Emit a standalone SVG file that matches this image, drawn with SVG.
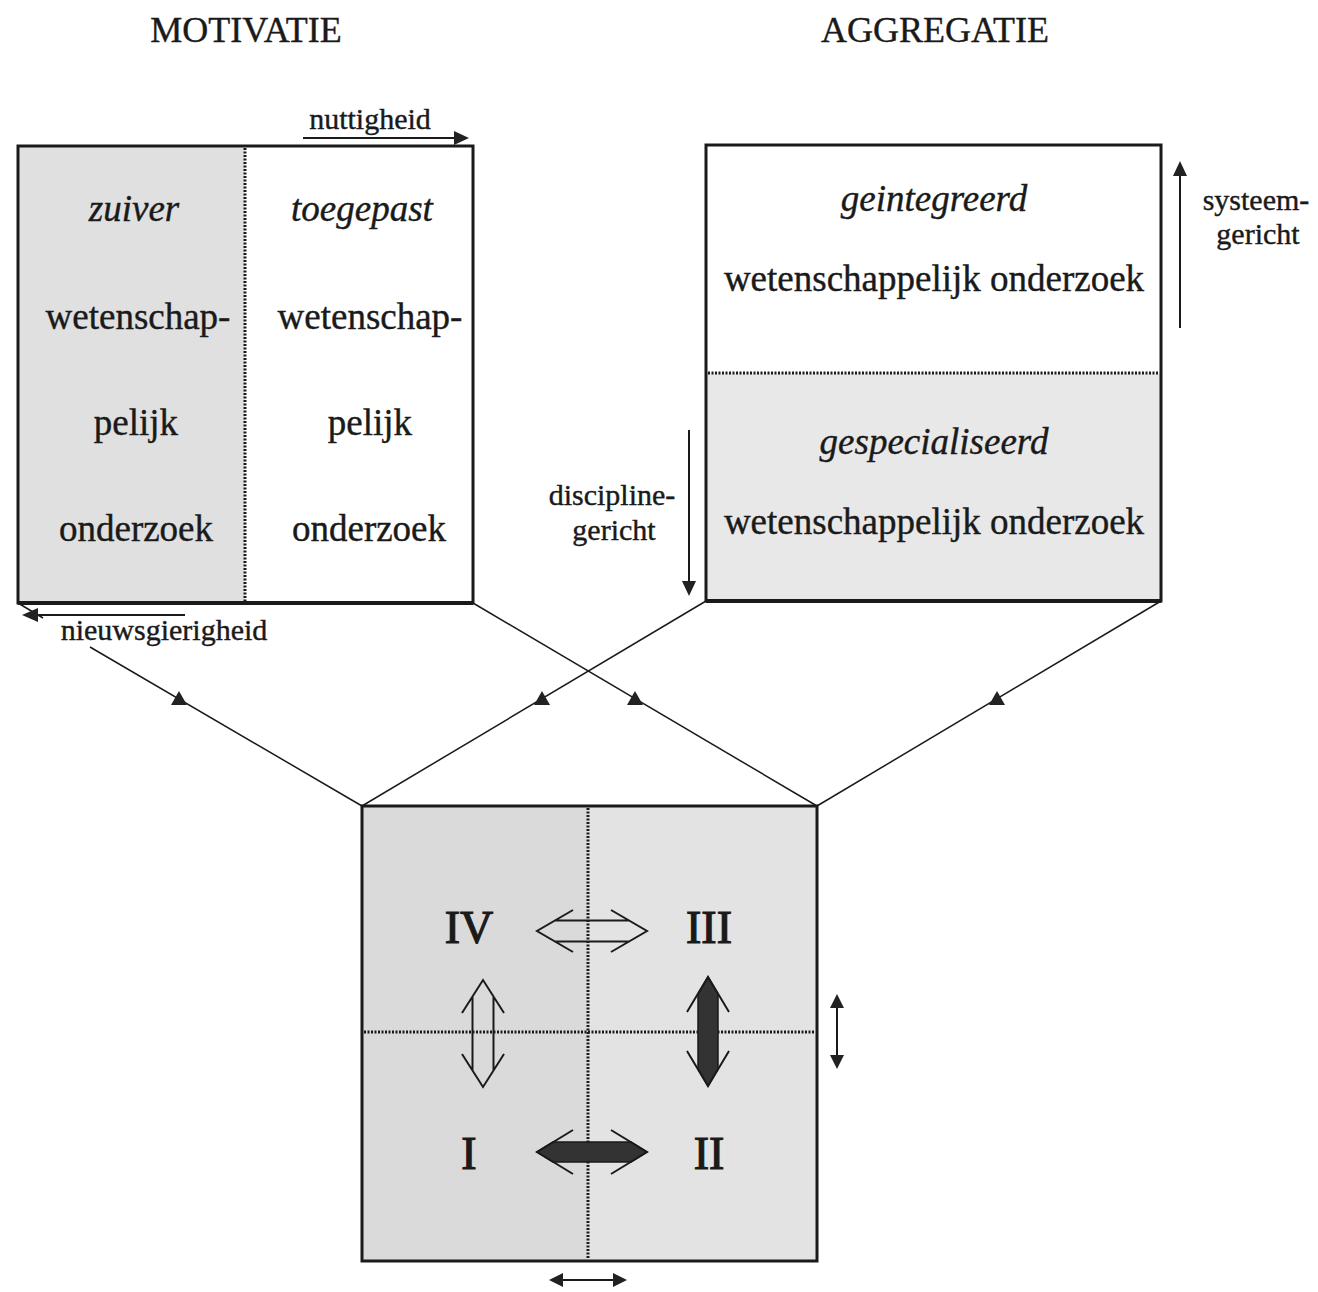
<svg xmlns="http://www.w3.org/2000/svg" width="1318" height="1292" viewBox="0 0 1318 1292">
<style>
  text { font-family: "Liberation Serif", "Times New Roman", serif; fill: #1a1a1a; stroke: #1a1a1a; stroke-width: 0.4; }
  .title { font-size: 36px; text-anchor: middle; }
  .big { font-size: 37px; text-anchor: middle; }
  .it { font-style: italic; }
  .lbl { font-size: 30px; text-anchor: middle; }
  .num { font-size: 46px; text-anchor: middle; stroke-width: 1.2; }
  .box { fill: none; stroke: #1a1a1a; stroke-width: 3; }
  .dot { stroke: #1a1a1a; stroke-width: 3; stroke-dasharray: 2 1.5; fill: none; }
  .conn { stroke: #1a1a1a; stroke-width: 1.5; fill: none; }
  .ah { fill: #222; stroke: none; }
  .thin { stroke: #1a1a1a; stroke-width: 2; fill: none; }
  .hollow { stroke: #1a1a1a; stroke-width: 2; fill: none; stroke-linejoin: miter; }
  .solid { fill: #333; stroke: #1a1a1a; stroke-width: 1.5; }
</style>

<rect width="1318" height="1292" fill="#ffffff"/>

<text class="title" x="246" y="42">MOTIVATIE</text>
<text class="title" x="935" y="42">AGGREGATIE</text>

<g id="connectors">
  <path class="conn" d="M18,603 L43,618 M90,647 L362,806"/>
  <path class="conn" d="M473,603 L817,806"/>
  <path class="conn" d="M706,601 L362,806"/>
  <path class="conn" d="M1161,601 L817,806"/>
  <polygon class="ah" points="179,691 171,705 187,705"/>
  <polygon class="ah" points="542,691 534,705 550,705"/>
  <polygon class="ah" points="635,691 627,705 643,705"/>
  <polygon class="ah" points="997,691 989,705 1005,705"/>
</g>

<g id="motivatie">
  <rect x="18" y="146" width="227" height="457" fill="#e0e0e0"/>
  <rect x="245" y="146" width="228" height="457" fill="#ffffff"/>
  <line class="dot" x1="245" y1="148" x2="245" y2="601"/>
  <rect class="box" x="18" y="146" width="455" height="457"/>
  <line x1="18" y1="603" x2="473" y2="603" stroke="#1a1a1a" stroke-width="4"/>
  <text class="big it" x="134" y="221">zuiver</text>
  <text class="big" x="138" y="329">wetenschap-</text>
  <text class="big" x="136" y="435">pelijk</text>
  <text class="big" x="136" y="541">onderzoek</text>
  <text class="big it" x="362" y="221">toegepast</text>
  <text class="big" x="370" y="329">wetenschap-</text>
  <text class="big" x="370" y="435">pelijk</text>
  <text class="big" x="369" y="541">onderzoek</text>
</g>

<g id="nuttigheid">
  <text class="lbl" x="370" y="129">nuttigheid</text>
  <line class="thin" x1="303" y1="138" x2="456" y2="138"/>
  <polygon class="ah" points="469,138 454,131 454,145"/>
</g>

<g id="nieuwsgierigheid">
  <text class="lbl" x="164" y="640">nieuwsgierigheid</text>
  <line class="thin" x1="36" y1="615" x2="185" y2="615"/>
  <polygon class="ah" points="22,615 38,608 38,622"/>
</g>

<g id="aggregatie">
  <rect x="706" y="373" width="455" height="228" fill="#e8e8e8"/>
  <line class="dot" x1="708" y1="373" x2="1159" y2="373"/>
  <rect class="box" x="706" y="145" width="455" height="456"/>
  <line x1="706" y1="601" x2="1161" y2="601" stroke="#1a1a1a" stroke-width="4"/>
  <text class="big it" x="934" y="211">geintegreerd</text>
  <text class="big" x="934" y="291">wetenschappelijk onderzoek</text>
  <text class="big it" x="934" y="454">gespecialiseerd</text>
  <text class="big" x="934" y="534">wetenschappelijk onderzoek</text>
</g>

<g id="systeemgericht">
  <text class="lbl" x="1256" y="210">systeem-</text>
  <text class="lbl" x="1258" y="244">gericht</text>
  <line class="thin" x1="1180" y1="174" x2="1180" y2="328"/>
  <polygon class="ah" points="1180,161 1173,176 1187,176"/>
</g>

<g id="disciplinegericht">
  <text class="lbl" x="612" y="505">discipline-</text>
  <text class="lbl" x="614" y="540">gericht</text>
  <line class="thin" x1="689" y1="430" x2="689" y2="583"/>
  <polygon class="ah" points="689,596 682,581 696,581"/>
</g>

<g id="matrix">
  <rect x="362" y="806" width="226" height="455" fill="#dadada"/>
  <rect x="588" y="806" width="229" height="455" fill="#e3e3e3"/>
  <line class="dot" x1="588" y1="808" x2="588" y2="1259"/>
  <line class="dot" x1="364" y1="1032" x2="815" y2="1032"/>
  <rect class="box" x="362" y="806" width="455" height="455"/>
  <text class="num" x="469" y="943">IV</text>
  <text class="num" x="709" y="943">III</text>
  <text class="num" x="469" y="1169">I</text>
  <text class="num" x="709" y="1169">II</text>
  <path class="hollow" d="M573,910 L537,931 L573,952 M611,910 L647,931 L611,952 M555,920.5 H629 M555,941.5 H629"/>
  <path class="hollow" d="M462,1013 L483,980 L504,1013 M462,1054 L483,1087 L504,1054 M472.5,996.5 V1070.5 M493.5,996.5 V1070.5"/>
  <polygon class="solid" points="708,977 718,994 718,1069 708,1086 698,1069 698,994"/>
  <path class="hollow" d="M687,1012 L708,977 L729,1012 M687,1051 L708,1086 L729,1051"/>
  <polygon class="solid" points="537,1152 553,1142 631,1142 647,1152 631,1162 553,1162"/>
  <path class="hollow" d="M573,1130 L537,1152 L573,1174 M611,1130 L647,1152 L611,1174"/>
</g>

<g id="small-vertical">
  <line class="thin" x1="837" y1="1005" x2="837" y2="1058"/>
  <polygon class="ah" points="837,994 830,1008 844,1008"/>
  <polygon class="ah" points="837,1069 830,1055 844,1055"/>
</g>

<g id="small-horizontal">
  <line class="thin" x1="560" y1="1280" x2="616" y2="1280"/>
  <polygon class="ah" points="549,1280 563,1273 563,1287"/>
  <polygon class="ah" points="627,1280 613,1273 613,1287"/>
</g>
</svg>
